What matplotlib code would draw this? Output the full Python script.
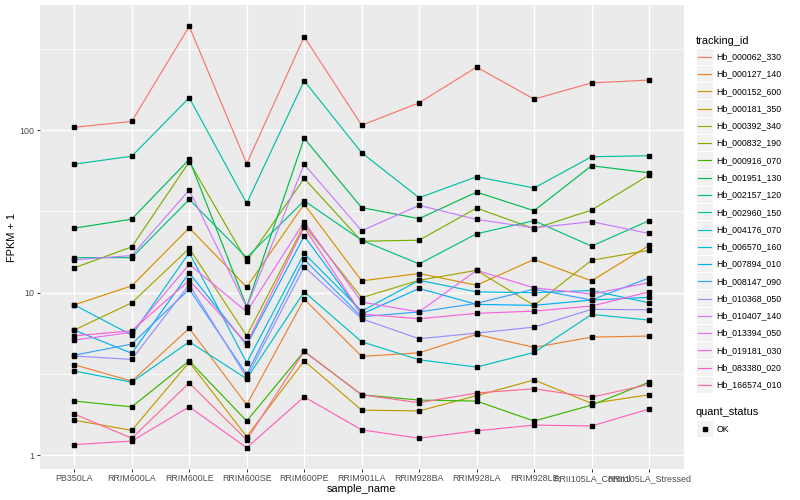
import math
import matplotlib
matplotlib.use("Agg")
import matplotlib.pyplot as plt
from matplotlib.lines import Line2D
from matplotlib.patches import Rectangle

# ---------------- data ----------------
samples = ["PB350LA", "RRIM600LA", "RRIM600LE", "RRIM600SE", "RRIM600PE",
           "RRIM901LA", "RRIM928BA", "RRIM928LA", "RRIM928LE",
           "RRII105LA_Control", "RRII105LA_Stressed"]

tracking_ids = ["Hb_000062_330", "Hb_000127_140", "Hb_000152_600", "Hb_000181_350",
                "Hb_000392_340", "Hb_000832_190", "Hb_000916_070", "Hb_001951_130",
                "Hb_002157_120", "Hb_002960_150", "Hb_004176_070", "Hb_006570_160",
                "Hb_007894_010", "Hb_008147_090", "Hb_010368_050", "Hb_010407_140",
                "Hb_013394_050", "Hb_019181_030", "Hb_083380_020", "Hb_166574_010"]

hb_000062_330 = [104, 113, 435, 62, 375, 107, 147, 244, 155, 195, 203]
hb_000127_140 = [3.6, 2.85, 6.03, 2.04, 9.1, 4.05, 4.26, 5.53, 4.6, 5.32, 5.4]
hb_000152_600 = [8.4, 11.0, 25.0, 10.8, 35.0, 11.8, 13.1, 11.1, 16.0, 11.8, 19.5]
hb_000181_350 = [1.64, 1.42, 3.73, 1.3, 3.8, 1.89, 1.87, 2.32, 2.9, 2.08, 2.35]
hb_000392_340 = [5.88, 8.65, 18.7, 5.42, 26.0, 9.3, 11.9, 13.7, 8.34, 15.8, 18.2]
hb_000832_190 = [14.2, 19.1, 63.8, 15.6, 50.4, 20.7, 21.0, 33.1, 24.7, 32.2, 52.8]
hb_000916_070 = [2.15, 1.98, 3.8, 1.62, 4.35, 2.35, 2.18, 2.15, 1.62, 2.03, 2.81]
hb_001951_130 = [24.9, 28.3, 66.0, 8.2, 89.0, 33.3, 28.5, 41.5, 31.9, 60.3, 54.6]
hb_002157_120 = [16.4, 16.4, 37.4, 16.4, 36.7, 21.0, 15.0, 23.0, 27.7, 19.3, 27.7]
hb_002960_150 = [61.7, 69.0, 158, 35.4, 201, 72.5, 38.3, 51.6, 44.0, 68.5, 69.5]
hb_004176_070 = [3.29, 2.81, 4.98, 2.95, 10.1, 4.98, 3.86, 3.48, 4.28, 7.34, 6.77]
hb_006570_160 = [8.4, 5.47, 17.6, 3.7, 17.4, 7.69, 11.9, 10.1, 9.97, 10.3, 8.65]
hb_007894_010 = [5.88, 4.23, 13.2, 4.75, 22.3, 7.37, 10.6, 8.46, 8.34, 9.0, 9.34]
hb_008147_090 = [4.12, 4.82, 10.5, 3.14, 16.0, 7.1, 7.6, 8.58, 10.5, 9.0, 12.3]
hb_010368_050 = [4.07, 3.88, 11.2, 3.0, 14.4, 6.9, 5.2, 5.63, 6.13, 7.88, 7.84]
hb_010407_140 = [15.9, 16.9, 42.7, 8.1, 61.5, 24.0, 34.4, 28.2, 25.0, 27.3, 23.1]
hb_013394_050 = [5.1, 5.69, 14.9, 7.62, 27.2, 8.74, 7.6, 13.7, 10.7, 9.79, 11.5]
hb_019181_030 = [5.42, 5.82, 11.9, 4.86, 25.2, 7.37, 6.9, 7.45, 7.69, 8.26, 10.1]
hb_083380_020 = [1.16, 1.22, 1.98, 1.11, 2.28, 1.43, 1.27, 1.41, 1.53, 1.51, 1.92]
hb_166574_010 = [1.79, 1.27, 2.78, 1.24, 4.35, 2.35, 2.1, 2.41, 2.56, 2.27, 2.72]

series = [hb_000062_330, hb_000127_140, hb_000152_600, hb_000181_350, hb_000392_340,
          hb_000832_190, hb_000916_070, hb_001951_130, hb_002157_120, hb_002960_150,
          hb_004176_070, hb_006570_160, hb_007894_010, hb_008147_090, hb_010368_050,
          hb_010407_140, hb_013394_050, hb_019181_030, hb_083380_020, hb_166574_010]

y_ticks = [1, 10, 100]
y_tick_labels = ["1", "10", "100"]
status_levels = ["OK"]


# ---------------- ggplot hue palette ----------------
def hcl_hex(h, c, l):
    hr = math.radians(h)
    u, v = c * math.cos(hr), c * math.sin(hr)
    Xn, Yn, Zn = 95.047, 100.0, 108.883
    un = 4 * Xn / (Xn + 15 * Yn + 3 * Zn)
    vn = 9 * Yn / (Xn + 15 * Yn + 3 * Zn)
    Y = Yn * ((l + 16) / 116) ** 3 if l > 8 else Yn * l / 903.3
    up = u / (13 * l) + un
    vp = v / (13 * l) + vn
    X = Y * 9 * up / (4 * vp)
    Z = Y * (12 - 3 * up - 20 * vp) / (4 * vp)
    X, Y, Z = X / 100, Y / 100, Z / 100
    r = 3.2404542 * X - 1.5371385 * Y - 0.4985314 * Z
    g = -0.9692660 * X + 1.8760108 * Y + 0.0415560 * Z
    b = 0.0556434 * X - 0.2040259 * Y + 1.0572252 * Z

    def gam(t):
        t = 12.92 * t if t <= 0.0031308 else 1.055 * t ** (1 / 2.4) - 0.055
        return min(max(t, 0.0), 1.0)
    return (gam(r), gam(g), gam(b))


n = len(tracking_ids)
colors = [hcl_hex(15 + 360 * i / n, 100, 65) for i in range(n)]

# ---------------- figure ----------------
W, H = 800, 500
fig = plt.figure(figsize=(8, 5), dpi=100)
fig.patch.set_facecolor("white")

px_left, px_right, px_top, px_bottom = 39.8, 683.5, 5.2, 468.8
ax = fig.add_axes([px_left / W, 1 - px_bottom / H,
                   (px_right - px_left) / W, (px_bottom - px_top) / H])
ax.set_facecolor("#EBEBEB")
for s in ax.spines.values():
    s.set_visible(False)

x = list(range(len(samples)))
for vals, col in zip(series, colors):
    ax.plot(x, vals, color=col, lw=0.85, solid_capstyle="butt", zorder=3)
for vals in series:
    ax.plot(x, vals, ls="none", marker="s", ms=2.2, color="black", zorder=4)

ax.set_yscale("log")
lo = math.log10(min(min(v) for v in series))
hi = math.log10(max(max(v) for v in series))
pad = 0.05 * (hi - lo)
ax.set_ylim(10 ** (lo - pad), 10 ** (hi + pad))
ax.set_xlim(-0.6, len(samples) - 1 + 0.6)

ax.set_yticks(y_ticks)
ax.set_yticklabels(y_tick_labels)
ax.set_xticks(x)
ax.set_xticklabels(samples)
ax.minorticks_on()
ax.xaxis.set_minor_locator(matplotlib.ticker.NullLocator())
ax.set_yticks([10 ** 0.5, 10 ** 1.5, 10 ** 2.5], minor=True)
ax.yaxis.set_minor_formatter(matplotlib.ticker.NullFormatter())

ax.grid(True, which="major", color="white", lw=1.0, zorder=0)
ax.grid(True, which="minor", axis="y", color="white", lw=0.5, zorder=0)
ax.set_axisbelow(True)

ax.tick_params(axis="both", which="major", length=2.0, width=0.7, color="#333333",
               labelsize=6.4, labelcolor="#4D4D4D", pad=1.6)
ax.tick_params(axis="y", which="minor", length=0)
for lab in ax.get_xticklabels() + ax.get_yticklabels():
    lab.set_family("Liberation Sans")

fig.text(361.6 / W, 1 - 488.5 / H, "sample_name", ha="center", va="center",
         fontsize=7.9, family="Liberation Sans", color="black")
fig.text(12.5 / W, 1 - 237 / H, "FPKM + 1", ha="center", va="center", rotation=90,
         fontsize=7.9, family="Liberation Sans", color="black")


# ---------------- legend (drawn in pixel coords) ----------------
def fx(p):
    return p / W


def fy(p):
    return 1 - p / H


key = 17.28
kx = 696.5
fig.text(fx(696), fy(40.7), "tracking_id", ha="left", va="center",
         fontsize=7.9, family="Liberation Sans")
y0 = 56.7
for i, (name, col) in enumerate(zip(tracking_ids, colors)):
    yc = y0 + i * key
    fig.patches.append(Rectangle((fx(kx), fy(yc + key / 2 - 0.5)), key / W - 1 / W,
                                 (key - 1) / H, transform=fig.transFigure,
                                 facecolor="#F2F2F2", edgecolor="none"))
    fig.lines.append(Line2D([fx(kx + 1.7), fx(kx + key - 2.7)], [fy(yc), fy(yc)],
                            transform=fig.transFigure, color=col, lw=0.85))
    fig.text(fx(716.5), fy(yc), name, ha="left", va="center", fontsize=6.35,
             family="Liberation Sans", color="black")

fig.text(fx(696), fy(411.7), "quant_status", ha="left", va="center",
         fontsize=7.9, family="Liberation Sans")
for i, lev in enumerate(status_levels):
    yc = 429 + i * key
    fig.patches.append(Rectangle((fx(kx), fy(yc + key / 2 - 0.5)), key / W - 1 / W,
                                 (key - 1) / H, transform=fig.transFigure,
                                 facecolor="#F2F2F2", edgecolor="none"))
    fig.lines.append(Line2D([fx(kx + key / 2 - 0.5)], [fy(yc)], transform=fig.transFigure,
                            ls="none", marker="s", ms=2.2, color="black"))
    fig.text(fx(716.5), fy(yc), lev, ha="left", va="center", fontsize=6.35,
             family="Liberation Sans", color="black")

fig.savefig("out.png", dpi=100)
